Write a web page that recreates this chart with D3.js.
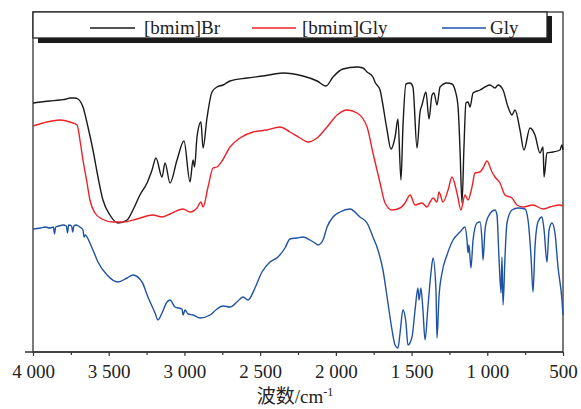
<!DOCTYPE html>
<html><head><meta charset="utf-8">
<script src="https://cdn.jsdelivr.net/npm/d3@7"></script>
<style>
html,body{margin:0;padding:0;background:#fff;}
svg text{font-family:"Liberation Serif","Times New Roman","Noto Sans CJK SC",serif;}
</style></head>
<body><svg id="c" width="581" height="409"></svg>
<script>
// ---- data (wavenumber cm^-1, transmittance a.u.) ----
const seriesNames = ["[bmim]Br", "[bmim]Gly", "Gly"];
const seriesColors = ["#1a1a1a", "#ec2227", "#1f52a3"];

const brWn = [4000,3888,3822,3780,3756,3725,3703,3670,3637,3604,3571,3538,3492,3439,3379,3340,3294,3247,3214,3188,3148,3128,3095,3049,3003,2963,2943,2933,2917,2891,2877,2851,2818,2785,2745,2699,2587,2481,2349,2217,2124,2065,2019,1953,1860,1821,1794,1755,1742,1708,1695,1662,1636,1609,1590,1570,1557,1537,1510,1491,1464,1444,1431,1405,1385,1365,1352,1332,1312,1266,1233,1213,1193,1180,1167,1154,1141,1127,1114,1094,1048,1015,982,949,929,896,863,837,817,784,758,718,685,652,632,625,606,566,520,507,500];
const brT  = [249,251,252,253,254,254,253,245,225,202,175,152,137,129,132,142,157,169,182,194,175,189,169,192,211,170,192,185,215,230,204,234,260,265,267,271,274,276,279,276,271,266,275,283,285,284,280,275,270,262,252,222,203,215,233,172,225,268,269,265,204,240,247,260,233,257,259,247,265,269,268,262,245,202,149,205,249,250,245,259,262,265,267,264,267,262,245,237,242,222,202,224,217,199,205,175,199,200,202,207,202];

const ilWn = [4000,3934,3822,3756,3709,3690,3670,3643,3624,3591,3544,3472,3406,3313,3208,3148,3095,3009,2963,2917,2891,2877,2844,2811,2785,2752,2699,2633,2547,2455,2369,2303,2237,2184,2124,2058,1992,1926,1860,1794,1755,1708,1675,1629,1576,1543,1510,1477,1431,1398,1378,1358,1332,1319,1292,1259,1233,1200,1174,1147,1127,1101,1081,1048,1028,1002,969,949,916,883,837,804,764,698,632,586,520,500];
const ilT  = [226,229,232,230,227,212,192,169,152,139,133,130,130,133,137,135,138,143,140,144,150,145,165,184,185,191,205,214,220,222,225,220,214,210,214,225,237,242,239,225,199,169,149,142,144,149,157,147,149,145,150,154,150,160,150,162,175,159,142,157,152,165,179,180,184,191,180,175,169,157,154,147,145,147,143,145,147,146];

const glyWn = [4000,3950,3920,3888,3865,3858,3850,3830,3800,3780,3772,3765,3745,3738,3730,3715,3700,3690,3670,3663,3657,3610,3571,3511,3439,3379,3340,3280,3241,3194,3175,3148,3115,3095,3062,3016,3009,2996,2976,2943,2897,2831,2785,2745,2699,2653,2613,2580,2534,2488,2435,2382,2336,2303,2257,2217,2171,2138,2118,2085,2058,2019,1973,1907,1841,1794,1755,1722,1689,1656,1629,1609,1590,1576,1557,1537,1524,1497,1477,1458,1451,1438,1425,1411,1392,1372,1358,1339,1332,1319,1299,1266,1226,1180,1147,1134,1127,1121,1108,1094,1068,1048,1035,1028,1015,995,949,936,923,909,903,896,883,870,837,797,751,731,711,698,685,665,639,625,606,592,573,553,533,507,500];
const glyT  = [123,124,125,124,125,118,125,126,127,126,119,127,126,120,126,127,126,125,122,115,117,104,90,77,70,74,77,70,55,39,32,39,50,52,45,43,37,42,38,37,34,37,43,46,45,50,55,52,64,80,90,95,104,113,114,115,112,109,107,112,125,135,140,143,135,129,115,102,82,49,22,7,4,19,42,29,7,15,42,64,52,64,42,12,45,79,94,62,14,55,79,97,112,120,125,112,99,107,84,112,129,130,112,92,122,135,142,137,95,59,95,47,95,129,142,144,143,132,95,60,105,130,135,122,90,122,129,119,85,52,37];

const majorTicks = [4000,3500,3000,2500,2000,1500,1000,500];
const minorTicks = [3750,3250,2750,2250,1750,1250,750];
const xTitle = "波数/cm";
const xTitleSup = "-1";

// ---- drawing ----
const svg = d3.select("#c");
const L = 33, R = 563, T = 12, B = 352;
const x = d3.scaleLinear().domain([4000, 500]).range([L, R]);
const y = d3.scaleLinear().domain([0, 340]).range([B, T]);

const loc = d3.formatLocale({decimal: ".", thousands: " ", grouping: [3], currency: ["", ""]});
const fmt = loc.format(",");

// frame
svg.append("rect").attr("x", L).attr("y", T).attr("width", R - L).attr("height", B - T)
  .attr("fill", "none").attr("stroke", "#333").attr("stroke-width", 1.3);

// lines
const sets = [[brWn, brT], [ilWn, ilT], [glyWn, glyT]];
const line = d3.line().x(d => x(d[0])).y(d => y(d[1])).curve(d3.curveMonotoneX);
sets.forEach((s, i) => {
  const pts = d3.zip(s[0], s[1]);
  svg.append("path").datum(pts).attr("d", line).attr("fill", "none")
    .attr("stroke", seriesColors[i]).attr("stroke-width", 1.4).attr("stroke-linejoin", "round");
});

// x axis
const ax = svg.append("g").attr("transform", `translate(0,${B})`)
  .call(d3.axisBottom(x).tickValues(majorTicks).tickSize(4).tickFormat(fmt));
ax.select(".domain").remove();
ax.selectAll(".tick line").attr("stroke", "#333").attr("stroke-width", 1.2);
ax.selectAll(".tick text").attr("y", 12.5).attr("font-size", 19).attr("fill", "#222");
const axm = svg.append("g").attr("transform", `translate(0,${B})`)
  .call(d3.axisBottom(x).tickValues(minorTicks).tickSize(3).tickFormat(""));
axm.select(".domain").remove();
axm.selectAll(".tick line").attr("stroke", "#333").attr("stroke-width", 1.2);
svg.append("line").attr("x1", 25).attr("x2", R).attr("y1", B).attr("y2", B)
  .attr("stroke", "#333").attr("stroke-width", 1.3);

// axis title
const tt = svg.append("text").attr("x", (L + R) / 2 - 3).attr("y", 403).attr("text-anchor", "middle")
  .attr("font-size", 19).attr("fill", "#222");
tt.append("tspan").text(xTitle);
tt.append("tspan").attr("dy", -7).attr("font-size", 12).text(xTitleSup);

// legend
svg.append("rect").attr("x", 38).attr("y", 16).attr("width", 514).attr("height", 27).attr("fill", "#1a1a1a");
svg.append("rect").attr("x", L).attr("y", T).attr("width", 514).attr("height", 26)
  .attr("fill", "#fff").attr("stroke", "#222").attr("stroke-width", 1.3);
const legX = [[90, 135, 144], [252, 296, 302], [442, 486, 490]];
seriesNames.forEach((n, i) => {
  svg.append("line").attr("x1", legX[i][0]).attr("x2", legX[i][1]).attr("y1", 28).attr("y2", 28)
    .attr("stroke", seriesColors[i]).attr("stroke-width", 1.3);
  svg.append("text").attr("x", legX[i][2]).attr("y", 33.5).attr("font-size", 19).attr("fill", "#222").text(n);
});
</script></body></html>
